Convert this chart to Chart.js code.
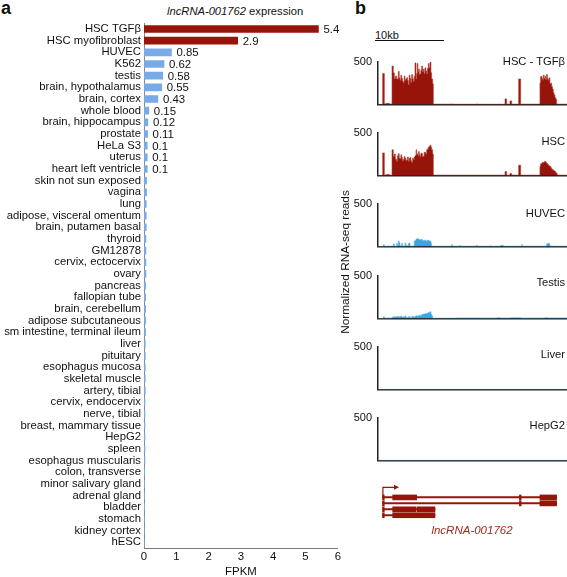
<!DOCTYPE html>
<html>
<head>
<meta charset="utf-8">
<script src="https://cdn.jsdelivr.net/npm/chart.js@4.4.0/dist/chart.umd.min.js"></script>
<style>
  body { margin: 0; width: 567px; height: 577px; position: relative; overflow: hidden; background: #fff;
         font-family: "Liberation Sans", Arial, sans-serif; color: #111; }
  canvas, .txt { position: absolute; }
  .txt { font-size: 11.2px; line-height: 14px; white-space: nowrap; }
  .panel { font-weight: bold; font-size: 18px; line-height: 20px; }
</style>
</head>
<body>

<div class="txt panel" style="left:1px;top:-2px">a</div>
<div class="txt panel" style="left:355px;top:-2px">b</div>
<div class="txt" style="left:167px;top:4px"><i>lncRNA-001762</i> expression</div>

<canvas id="barChart" width="343" height="577" style="left:0;top:1.5px"></canvas>

<div class="txt" style="left:375px;top:28px;font-size:11px">10kb</div>
<div style="position:absolute;left:375px;top:40px;width:69px;border-top:1.3px solid #111"></div>
<div class="txt" style="left:245px;top:255px;width:200px;text-align:center;font-size:11.8px;transform:rotate(-90deg)">Normalized RNA-seq reads</div>

<div id="tracks"></div>

<canvas id="geneChart" width="227" height="45" style="left:340px;top:480px"></canvas>
<div class="txt" style="left:422px;top:523px;width:100px;text-align:center;color:#a02a20;font-style:italic;font-size:11.5px">lncRNA-001762</div>

<script>
// panel a: FPKM per tissue / cell type
const tissues = [
  "HSC TGFβ", "HSC myofibroblast", "HUVEC", "K562", "testis", "brain, hypothalamus", "brain, cortex",
  "whole blood", "brain, hippocampus", "prostate", "HeLa S3", "uterus", "heart left ventricle",
  "skin not sun exposed", "vagina", "lung", "adipose, visceral omentum", "brain, putamen basal",
  "thyroid", "GM12878", "cervix, ectocervix", "ovary", "pancreas", "fallopian tube",
  "brain, cerebellum", "adipose subcutaneous", "sm intestine, terminal ileum", "liver", "pituitary",
  "esophagus mucosa", "skeletal muscle", "artery, tibial", "cervix, endocervix", "nerve, tibial",
  "breast, mammary tissue", "HepG2", "spleen", "esophagus muscularis", "colon, transverse",
  "minor salivary gland", "adrenal gland", "bladder", "stomach", "kidney cortex", "hESC"
];
const fpkm = [
  5.4, 2.9, 0.85, 0.62, 0.58, 0.55, 0.43, 0.15, 0.12, 0.11, 0.1, 0.1, 0.1,
  0.08, 0.08, 0.07, 0.07, 0.07, 0.06, 0.06, 0.06, 0.06, 0.05, 0.05, 0.05, 0.05, 0.05,
  0.04, 0.04, 0.04, 0.04, 0.04, 0.03, 0.03, 0.03, 0.03, 0.03, 0.03,
  0.02, 0.02, 0.02, 0.02, 0.01, 0.01, 0.005
];
const hscSamples = ["HSC TGFβ", "HSC myofibroblast"];
const fpkmTicks = [0, 1, 2, 3, 4, 5, 6];

// panel b: coverage tracks, [position in kb, normalized reads]
const trackNames = ["HSC - TGFβ", "HSC", "HUVEC", "Testis", "Liver", "HepG2"];
const covTGFb = [[0,0],[0.69,360],[0.93,8],[1.27,12],[1.67,4],[2.06,448],[2.25,369],[2.4,300],[2.55,330],[2.75,297],[2.99,384],[3.12,310],[3.24,282],[3.36,340],[3.48,302],[3.6,270],[3.73,253],[3.85,330],[3.97,282],[4.1,300],[4.22,311],[4.34,280],[4.46,233],[4.58,340],[4.71,302],[4.83,260],[4.95,349],[5.08,300],[5.2,267],[5.32,330],[5.44,485],[5.59,297],[5.68,360],[5.78,477],[5.88,380],[5.98,413],[6.08,350],[6.18,355],[6.3,400],[6.42,448],[6.55,380],[6.67,413],[6.79,360],[6.91,427],[7.04,390],[7.16,355],[7.28,420],[7.4,477],[7.52,430],[7.65,494],[7.79,369],[7.89,297],[8.04,240],[8.14,3],[10.8,6],[11.0,2],[14.5,5],[14.7,2],[18.68,64],[18.92,3],[19.41,41],[19.66,3],[20.69,297],[20.98,3],[23.82,253],[23.92,326],[24.12,300],[24.22,282],[24.31,340],[24.44,302],[24.56,326],[24.68,290],[24.8,349],[24.92,300],[25.05,282],[25.17,310],[25.29,238],[25.42,250],[25.54,209],[25.66,180],[25.78,137],[25.9,110],[26.03,78],[26.15,60],[26.27,3],[27.8,3]];
const covHSC = [[0,0],[0.69,263],[0.93,6],[1.27,10],[1.67,3],[2.06,299],[2.25,225],[2.4,250],[2.55,190],[2.75,165],[2.87,230],[2.99,254],[3.12,200],[3.24,195],[3.36,240],[3.48,210],[3.6,170],[3.73,186],[3.85,220],[3.97,204],[4.1,175],[4.22,180],[4.34,215],[4.46,165],[4.58,200],[4.71,210],[4.83,170],[4.95,150],[5.08,200],[5.2,186],[5.32,215],[5.44,231],[5.59,299],[5.68,240],[5.78,254],[5.88,230],[5.98,278],[6.08,240],[6.18,219],[6.3,260],[6.42,254],[6.55,220],[6.67,225],[6.79,270],[6.91,269],[7.04,250],[7.16,299],[7.28,310],[7.4,329],[7.52,340],[7.65,353],[7.79,330],[7.89,299],[8.04,250],[8.14,3],[18.68,45],[18.92,3],[19.41,21],[19.66,3],[20.69,120],[20.98,3],[23.82,105],[23.92,135],[24.12,150],[24.31,150],[24.44,159],[24.56,165],[24.68,150],[24.8,141],[24.92,130],[25.05,120],[25.17,110],[25.29,105],[25.42,90],[25.54,75],[25.66,65],[25.78,60],[25.9,50],[26.03,45],[26.15,30],[26.27,21],[26.37,3],[27.8,3]];
const covHUVEC = [[0,0],[0.78,20],[0.93,3],[2.25,28],[2.4,3],[2.75,34],[2.87,10],[2.99,62],[3.12,40],[3.24,5],[3.48,34],[3.6,5],[3.97,40],[4.1,8],[4.46,34],[4.58,40],[4.71,5],[5.32,62],[5.44,70],[5.59,85],[5.78,90],[5.98,80],[6.18,76],[6.3,82],[6.42,82],[6.55,68],[6.67,68],[6.79,73],[6.91,73],[7.04,60],[7.16,68],[7.28,71],[7.4,71],[7.52,62],[7.65,62],[7.79,34],[7.89,3],[10.83,20],[10.95,3],[12.0,10],[12.1,3],[14.51,14],[14.6,3],[16.5,8],[16.6,3],[18.0,10],[18.3,16],[18.4,3],[21.13,20],[21.25,3],[24.8,30],[25.05,40],[25.17,25],[25.3,3],[27.8,3]];
const covTestis = [[0,0],[0.78,20],[0.93,5],[2.06,12],[2.25,20],[2.55,15],[2.75,22],[3.0,20],[3.24,25],[3.48,15],[3.73,18],[3.97,30],[4.1,10],[4.46,20],[4.71,8],[4.95,22],[5.2,15],[5.44,26],[5.59,30],[5.78,26],[5.98,35],[6.18,35],[6.42,45],[6.67,50],[6.91,55],[7.16,59],[7.4,71],[7.52,65],[7.65,79],[7.79,50],[7.89,30],[8.04,3],[11.5,6],[15,5],[17.5,8],[18,6],[19.5,8],[21,5],[24.5,8],[25.0,6],[27.8,3]];
const covLiver = [[0,0],[27.8,0]];
const covHepG2 = [[0,0],[27.8,0]];
const coverage = [covTGFb, covHSC, covHUVEC, covTestis, covLiver, covHepG2];
const readsMax = 500;
const locusKb = 27.8;

// gene model, [transcript, start kb, end kb]
const transcripts = ["t1", "t2", "t3", "t4"];
const introns = [["t1",0.67,26.27],["t2",0.67,26.27],["t3",0.67,8.38],["t4",0.67,8.38]];
const exons = [
  ["t1",0.67,0.92],["t1",2.16,5.69],["t1",20.8,21.05],["t1",23.82,26.27],
  ["t2",0.67,0.92],["t2",20.8,21.05],["t2",23.82,26.27],
  ["t3",0.67,0.92],["t3",2.16,5.6],["t3",5.75,8.38],
  ["t4",0.67,0.92],["t4",2.16,8.38]
];
const tssKb = 0.72;

const RED = "#961409";
const BLUE_BAR = "#78aae6";
const BLUE_COV = "#3ba6dd";
const FONT = '"Liberation Sans", Arial, sans-serif';
Chart.defaults.font.family = FONT;
Chart.defaults.color = "#111";

// value labels next to the bars
const valueLabels = {
  id: "valueLabels",
  afterDatasetsDraw(chart) {
    const ctx = chart.ctx;
    ctx.save();
    ctx.font = "11.4px " + FONT;
    ctx.fillStyle = "#111";
    ctx.textBaseline = "middle";
    chart.getDatasetMeta(0).data.forEach((bar, i) => {
      if (fpkm[i] >= 0.1) ctx.fillText(String(fpkm[i]), bar.x + 5, bar.y + 1);
    });
    ctx.restore();
  }
};

new Chart(document.getElementById("barChart"), {
  type: "bar",
  data: {
    labels: tissues,
    datasets: [{
      data: fpkm,
      backgroundColor: tissues.map(t => hscSamples.includes(t) ? RED : BLUE_BAR),
      barThickness: 7
    }]
  },
  options: {
    indexAxis: "y",
    responsive: false,
    animation: false,
    layout: { padding: { top: 21.2, right: 3, left: 0, bottom: 0 } },
    plugins: { legend: { display: false }, tooltip: { enabled: false } },
    scales: {
      x: {
        min: 0, max: 6,
        afterBuildTicks: s => { s.ticks = fpkmTicks.map(v => ({ value: v })); },
        ticks: { font: { size: 11.4 }, padding: 2 },
        grid: { display: false, drawTicks: false },
        border: { color: "#777", width: 1 },
        title: { display: true, text: "FPKM", font: { size: 11.4 }, padding: 0 },
        afterFit: s => { s.height = 31; }
      },
      y: {
        ticks: { font: { size: 11.3 }, padding: 3, autoSkip: false },
        grid: { display: false, drawTicks: false },
        border: { color: "#888", width: 1 },
        afterFit: s => { s.width = 144; }
      }
    }
  },
  plugins: [valueLabels]
});

// coverage tracks
const trackTop = 57, trackStep = 71.2, trackH = 57.5;
const labelTops = [54, 134, 206, 275, 347, 418];
const tracksDiv = document.getElementById("tracks");
coverage.forEach((cov, i) => {
  const top = trackTop + i * trackStep;
  const cv = document.createElement("canvas");
  cv.width = 227; cv.height = 68;
  cv.style.left = "340px";
  cv.style.top = (top - 8) + "px";
  tracksDiv.appendChild(cv);
  const lab = document.createElement("div");
  lab.className = "txt";
  lab.style.right = "2px";
  lab.style.top = labelTops[i] + "px";
  lab.textContent = trackNames[i];
  tracksDiv.appendChild(lab);
  const red = i < 2;
  new Chart(cv, {
    type: "line",
    data: {
      datasets: [{
        data: cov.map(p => ({ x: p[0], y: p[1] })),
        stepped: true,
        fill: "origin",
        backgroundColor: red ? RED : BLUE_COV,
        borderColor: red ? "#b3392c" : "#5ab6e6",
        borderWidth: 0.6,
        pointRadius: 0
      }]
    },
    options: {
      responsive: false,
      animation: false,
      layout: { padding: { top: 8, right: 0, bottom: 68 - 8 - trackH, left: 0 } },
      plugins: { legend: { display: false }, tooltip: { enabled: false } },
      scales: {
        x: {
          type: "linear", min: 0, max: locusKb,
          ticks: { display: false },
          grid: { display: false, drawTicks: false },
          border: { color: "#222", width: 1.5 },
          afterFit: s => { s.height = 0; }
        },
        y: {
          min: 0, max: readsMax,
          afterBuildTicks: s => { s.ticks = [{ value: readsMax }]; },
          ticks: { font: { size: 11 }, padding: 6 },
          grid: { display: false, drawTicks: false },
          border: { color: "#222", width: 1.5 },
          afterFit: s => { s.width = 38; }
        }
      }
    }
  });
});

// gene model
const tssArrow = {
  id: "tssArrow",
  afterDatasetsDraw(chart) {
    const ctx = chart.ctx;
    const x = chart.scales.x.getPixelForValue(tssKb);
    const xEnd = chart.scales.x.getPixelForValue(3.1);
    const y0 = chart.scales.y.getPixelForValue(0) - 2;
    const y1 = y0 - 8;
    ctx.save();
    ctx.strokeStyle = RED; ctx.fillStyle = RED; ctx.lineWidth = 1.2;
    ctx.beginPath(); ctx.moveTo(x, y0); ctx.lineTo(x, y1); ctx.lineTo(xEnd - 4, y1); ctx.stroke();
    ctx.beginPath(); ctx.moveTo(xEnd, y1); ctx.lineTo(xEnd - 5, y1 - 2.5); ctx.lineTo(xEnd - 5, y1 + 2.5); ctx.closePath(); ctx.fill();
    ctx.restore();
  }
};

new Chart(document.getElementById("geneChart"), {
  type: "bar",
  data: {
    labels: transcripts,
    datasets: [
      { data: introns.map(r => ({ y: r[0], x: [r[1], r[2]] })), backgroundColor: RED, barThickness: 1.3, grouped: false },
      { data: exons.map(r => ({ y: r[0], x: [r[1], r[2]] })), backgroundColor: RED, barThickness: 5, grouped: false }
    ]
  },
  options: {
    indexAxis: "y",
    responsive: false,
    animation: false,
    layout: { padding: { top: 14.3, bottom: 6.7, left: 38, right: 0 } },
    plugins: { legend: { display: false }, tooltip: { enabled: false } },
    scales: {
      x: { type: "linear", min: 0, max: locusKb, display: false },
      y: { type: "category", display: false }
    }
  },
  plugins: [tssArrow]
});
</script>
</body>
</html>
